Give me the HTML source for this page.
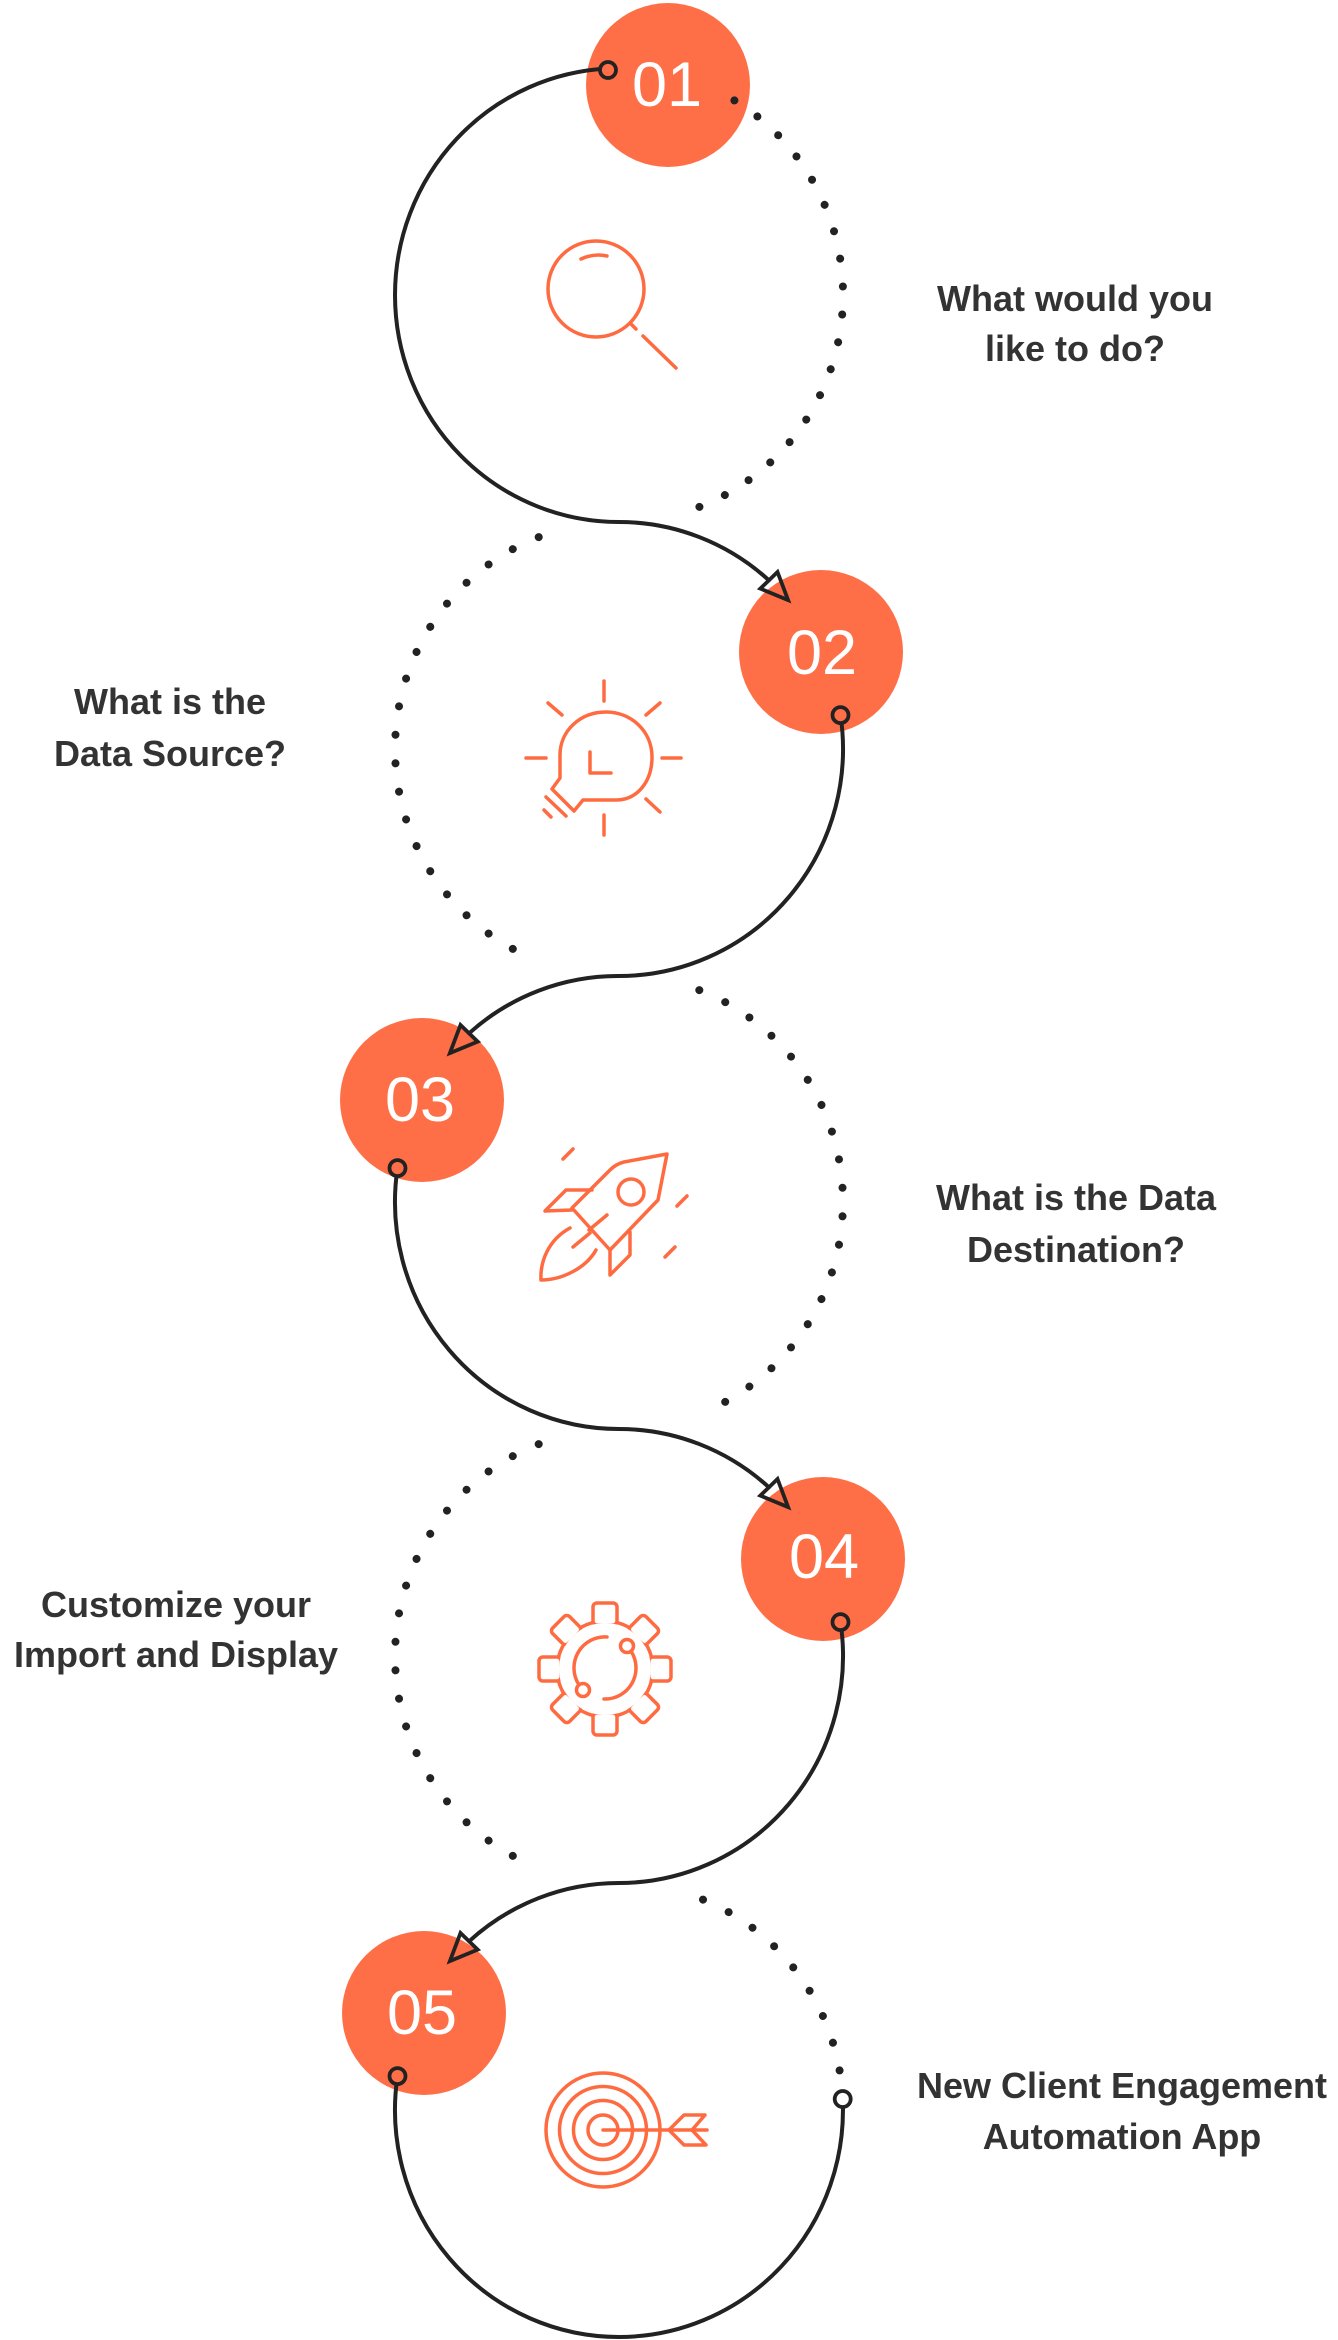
<!DOCTYPE html>
<html>
<head>
<meta charset="utf-8">
<style>
  html, body { margin: 0; padding: 0; background: #ffffff; }
  body { width: 1338px; height: 2340px; overflow: hidden; }
  svg { display: block; }
  .lbl { font-family: "Liberation Sans", sans-serif; font-weight: bold; font-size: 36px; fill: #333333; }
  .num { font-family: "Liberation Sans", sans-serif; font-weight: normal; font-size: 63px; fill: #ffffff; }
</style>
</head>
<body>
<svg width="1338" height="2340" viewBox="0 0 1338 2340" xmlns="http://www.w3.org/2000/svg">
  <rect x="0" y="0" width="1338" height="2340" fill="#ffffff"/>

  <!-- Nodes -->
  <g fill="#FF6F47">
    <circle cx="668" cy="85" r="82"/>
    <circle cx="821" cy="652" r="82"/>
    <circle cx="422" cy="1100" r="82"/>
    <circle cx="823" cy="1559" r="82"/>
    <circle cx="424" cy="2013" r="82"/>
  </g>
  <g class="num" text-anchor="middle">
    <text x="667" y="106">01</text>
    <text x="822" y="674">02</text>
    <text x="420" y="1121">03</text>
    <text x="824" y="1578">04</text>
    <text x="422" y="2034">05</text>
  </g>

  <!-- Dotted arcs -->
  <g fill="none" stroke="#222222" stroke-width="8" stroke-linecap="round" stroke-dasharray="0.001 0.999">
    <path pathLength="18" d="M734.4 100.4 A224 227 0 0 1 699.3 506.9"/>
    <path pathLength="19" d="M538.7 537.1 A224 227 0 0 0 538.7 960.9"/>
    <path pathLength="19" d="M699.3 990.1 A224 227 0 0 1 699.3 1413.9"/>
    <path pathLength="19" d="M538.7 1444.1 A224 227 0 0 0 538.7 1867.9"/>
    <path pathLength="8" d="M703.0 1899.6 A224 227 0 0 1 839.6 2070.5"/>
  </g>

  <!-- Solid connectors -->
  <g fill="none" stroke="#222222" stroke-width="4" stroke-linecap="round">
    <path d="M608 68.5 A224 227 0 0 0 395 295 A224 227 0 0 0 619 522 A224 227 0 0 1 768.9 580.3"/>
    <path d="M840.5 715.1 A224 227 0 0 1 619 976 A224 227 0 0 0 469.1 1033.3"/>
    <path d="M397.5 1168.1 A224 227 0 0 0 619 1429 A224 227 0 0 1 768.9 1487.3"/>
    <path d="M840.5 1622.1 A224 227 0 0 1 619 1883 A224 227 0 0 0 469.1 1941.3"/>
    <path d="M397.5 2076.1 A224 227 0 0 0 619 2337 A224 227 0 0 0 842.7 2099"/>
  </g>

  <!-- Arrowheads (open triangles) -->
  <g fill="none" stroke="#222222" stroke-width="3.8" stroke-linejoin="miter">
    <path d="M788.1 600.1 L760.3 588.6 L777.5 572.0 Z"/>
    <path d="M449.9 1053.1 L477.7 1041.6 L460.5 1025.0 Z"/>
    <path d="M788.1 1507.1 L760.3 1495.6 L777.5 1479.0 Z"/>
    <path d="M449.9 1961.1 L477.7 1949.6 L460.5 1933.0 Z"/>
  </g>

  <!-- Start / end markers -->
  <g stroke="#222222" stroke-width="3.8">
    <circle cx="608" cy="70" r="8" fill="#FF6F47"/>
    <circle cx="840.5" cy="715.1" r="8" fill="#FF6F47"/>
    <circle cx="397.5" cy="1168.1" r="8" fill="#FF6F47"/>
    <circle cx="840.5" cy="1622.1" r="8" fill="#FF6F47"/>
    <circle cx="397.5" cy="2076.1" r="8" fill="#FF6F47"/>
    <circle cx="842.7" cy="2099" r="8" fill="#ffffff"/>
  </g>

  <!-- Icons -->
  <g fill="none" stroke="#FF6B40" stroke-width="3.5" stroke-linecap="round" stroke-linejoin="round">
    <!-- Magnifier -->
    <circle cx="596" cy="289" r="48"/>
    <path d="M581 259 Q594 253 607 256"/>
    <line x1="630" y1="323" x2="636" y2="329"/>
    <line x1="643" y1="336" x2="676" y2="368"/>

    <!-- Light bulb -->
    <path d="M583 800 L616 800 C637 800 652 782 652 757 C652 731 631 712 606 712 C580 712 560 731 560 755 L560 778 L552 789 L574 811 Z"/>
    <path d="M590 752 L590 773 L611 773"/>
    <line x1="546" y1="797" x2="566" y2="816"/>
    <line x1="544" y1="810" x2="551" y2="817"/>
    <line x1="604" y1="681" x2="604" y2="701"/>
    <line x1="604" y1="815" x2="604" y2="835"/>
    <line x1="526" y1="758" x2="546" y2="758"/>
    <line x1="662" y1="758" x2="681" y2="758"/>
    <line x1="548" y1="703" x2="562" y2="715"/>
    <line x1="646" y1="715" x2="660" y2="703"/>
    <line x1="646" y1="799" x2="660" y2="812"/>

    <!-- Rocket -->
    <path d="M572 1208 L610 1170 Q616 1164 624 1162 L667 1154 L658 1200 L610 1250 Z"/>
    <path d="M572 1210 L545 1211 L566 1190 L592 1190"/>
    <path d="M610 1250 L610 1275 L630 1255 L630 1232"/>
    <circle cx="631" cy="1192" r="13"/>
    <line x1="589" y1="1230" x2="607" y2="1215"/>
    <line x1="573" y1="1247" x2="590" y2="1233"/>
    <path d="M570 1228 C548 1240 540 1262 541 1280 C562 1280 586 1268 596 1250"/>
    <line x1="563" y1="1159" x2="573" y2="1149"/>
    <line x1="677" y1="1206" x2="687" y2="1196"/>
    <line x1="665" y1="1257" x2="675" y2="1247"/>

    <!-- Target -->
    <circle cx="603" cy="2130" r="57"/>
    <circle cx="603" cy="2130" r="43.5"/>
    <circle cx="603" cy="2130" r="29.5"/>
    <circle cx="603" cy="2130" r="15"/>
    <line x1="603" y1="2130" x2="707" y2="2130"/>
    <path d="M669 2130 L684 2115 L705 2115 L692 2130 L706 2145 L684 2145 Z"/>
  </g>

  <!-- Gear -->
  <g stroke="#FF6B40" stroke-width="3.5" stroke-linecap="round" stroke-linejoin="round">
    <circle cx="605" cy="1669" r="48" fill="#ffffff"/>
    <g fill="#ffffff">
      <rect x="593" y="1603" width="24" height="22" rx="4" transform="rotate(0 605 1669)"/>
      <rect x="593" y="1603" width="24" height="22" rx="4" transform="rotate(45 605 1669)"/>
      <rect x="593" y="1603" width="24" height="22" rx="4" transform="rotate(90 605 1669)"/>
      <rect x="593" y="1603" width="24" height="22" rx="4" transform="rotate(135 605 1669)"/>
      <rect x="593" y="1603" width="24" height="22" rx="4" transform="rotate(180 605 1669)"/>
      <rect x="593" y="1603" width="24" height="22" rx="4" transform="rotate(225 605 1669)"/>
      <rect x="593" y="1603" width="24" height="22" rx="4" transform="rotate(270 605 1669)"/>
      <rect x="593" y="1603" width="24" height="22" rx="4" transform="rotate(315 605 1669)"/>
    </g>
    <circle cx="605" cy="1669" r="46" fill="#ffffff" stroke="none"/>
    <g fill="none">
      <path d="M607 1637 A31 31 0 0 0 578.7 1684.4"/>
      <path d="M604 1699 A31 31 0 0 0 631.3 1651.6"/>
    </g>
    <circle cx="583" cy="1690" r="6.5" fill="#ffffff"/>
    <circle cx="627" cy="1646" r="6.5" fill="#ffffff"/>
  </g>

  <!-- Labels -->
  <g class="lbl" text-anchor="middle">
    <text x="1075" y="311">What would you</text>
    <text x="1075" y="361">like to do?</text>

    <text x="170" y="714">What is the</text>
    <text x="170" y="766">Data Source?</text>

    <text x="1076" y="1210">What is the Data</text>
    <text x="1076" y="1262">Destination?</text>

    <text x="176" y="1617">Customize your</text>
    <text x="176" y="1667">Import and Display</text>

    <text x="1122" y="2098">New Client Engagement</text>
    <text x="1122" y="2149">Automation App</text>
  </g>
</svg>
</body>
</html>
